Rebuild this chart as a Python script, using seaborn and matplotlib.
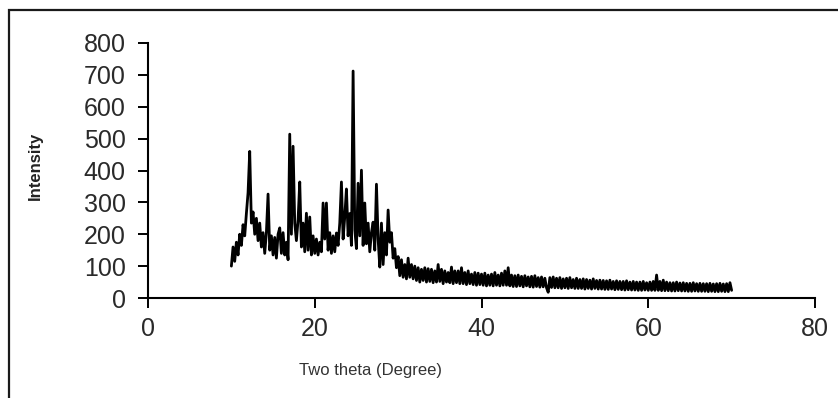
import numpy as np
import pandas as pd
import matplotlib
matplotlib.use("Agg")
import matplotlib.pyplot as plt
from matplotlib.patches import Rectangle
import seaborn as sns

# Two-theta grid (degrees), step 0.2 from 10 to 70
two_theta = np.round(np.arange(10.0, 70.0001, 0.2), 1)

# Intensity, one row per degree (x.0, x.2, x.4, x.6, x.8)
intensity = [
    100, 160, 115, 175, 135,   # 10
    200, 165, 230, 195, 265,   # 11
    330, 460, 235, 270, 200,   # 12
    250, 180, 235, 160, 205,   # 13
    140, 205, 326, 150, 195,   # 14
    135, 190, 125, 200, 220,   # 15
    140, 205, 135, 175, 120,   # 16
    514, 200, 476, 235, 180,   # 17
    245, 364, 160, 235, 145,   # 18
    266, 150, 254, 135, 195,   # 19
    140, 185, 135, 175, 145,   # 20
    298, 185, 298, 150, 205,   # 21
    140, 195, 145, 204, 165,   # 22
    235, 364, 185, 255, 342,   # 23
    195, 265, 165, 712, 215,   # 24
    155, 360, 195, 401, 165,   # 25
    298, 170, 235, 145, 205,   # 26
    238, 150, 357, 185, 97,    # 27
    235, 105, 205, 135, 276,   # 28
    175, 205, 125, 155, 95,    # 29
    130, 70, 120, 65, 105,     # 30
    60, 125, 65, 105, 60,      # 31
    100, 55, 95, 50, 90,       # 32
    55, 95, 50, 92, 52,        # 33
    90, 48, 85, 50, 105,       # 34
    52, 90, 45, 85, 50,        # 35
    80, 48, 97, 45, 85,        # 36
    48, 85, 45, 95, 45,        # 37
    80, 42, 85, 45, 75,        # 38
    42, 80, 40, 78, 42,        # 39
    75, 40, 78, 38, 72,        # 40
    40, 75, 38, 80, 40,        # 41
    72, 38, 78, 40, 85,        # 42
    40, 95, 38, 72, 36,        # 43
    70, 36, 72, 38, 68,        # 44
    35, 70, 38, 66, 35,        # 45
    68, 34, 70, 36, 64,        # 46
    34, 66, 35, 62, 32,        # 47
    18, 64, 33, 66, 32,        # 48
    62, 32, 64, 30, 60,        # 49
    32, 62, 30, 64, 32,        # 50
    58, 30, 62, 30, 58,        # 51
    30, 60, 28, 58, 30,        # 52
    56, 28, 60, 30, 55,        # 53
    28, 56, 28, 55, 27,        # 54
    54, 27, 56, 28, 52,        # 55
    26, 54, 27, 52, 26,        # 56
    52, 25, 54, 26, 50,        # 57
    25, 52, 25, 50, 24,        # 58
    50, 24, 52, 25, 48,        # 59
    24, 50, 24, 52, 24,        # 60
    72, 24, 52, 23, 56,        # 61
    23, 50, 23, 48, 22,        # 62
    48, 22, 50, 23, 47,        # 63
    22, 48, 22, 46, 21,        # 64
    46, 21, 48, 22, 45,        # 65
    21, 46, 21, 45, 21,        # 66
    45, 20, 46, 21, 44,        # 67
    20, 45, 20, 46, 21,        # 68
    44, 20, 45, 20, 48,        # 69
    24,                        # 70
]

x_ticks = [0, 20, 40, 60, 80]
y_ticks = [0, 100, 200, 300, 400, 500, 600, 700, 800]
x_label = "Two theta (Degree)"
y_label = "Intensity"

df = pd.DataFrame({"two_theta": two_theta, "intensity": intensity})

sns.set_theme(style="white")
plt.rcParams["font.family"] = ["Liberation Sans", "DejaVu Sans"]

fig = plt.figure(figsize=(8.38, 3.98), dpi=100)
ax = fig.add_axes([148 / 838, 100 / 398, 667 / 838, 255 / 398])

sns.lineplot(data=df, x="two_theta", y="intensity", color="black",
             linewidth=2.0, estimator=None, sort=False, ax=ax)

ax.set_xlim(0, 80)
ax.set_ylim(0, 800)
ax.set_xticks(x_ticks)
ax.set_yticks(y_ticks)
ax.set_xticklabels([str(v) for v in x_ticks])
ax.set_yticklabels([str(v) for v in y_ticks])

for s in ["top", "right"]:
    ax.spines[s].set_visible(False)
for s in ["left", "bottom"]:
    ax.spines[s].set_color("black")
    ax.spines[s].set_linewidth(1.5)

ax.tick_params(axis="both", which="major", direction="out", length=7,
               width=1.4, color="black", labelsize=18, labelcolor="#2a2a2a")
ax.tick_params(axis="y", pad=9, left=True)
ax.tick_params(axis="x", pad=7, bottom=True)

ax.set_xlabel(x_label, fontsize=12, color="#333333")
ax.xaxis.set_label_coords(0.333, -0.255)
ax.set_ylabel(y_label, fontsize=12, fontweight="bold", color="#222222")
ax.yaxis.set_label_coords(-0.157, 0.52)

# Outer chart frame (extends beyond the right and bottom edges)
fig.patches.append(Rectangle((9 / 838, -0.2), 2.0, 1.2 - 10 / 398,
                             transform=fig.transFigure, fill=False,
                             edgecolor="#1a1a1a", linewidth=1.6))

fig.savefig("out.png", dpi=100, facecolor="white")
